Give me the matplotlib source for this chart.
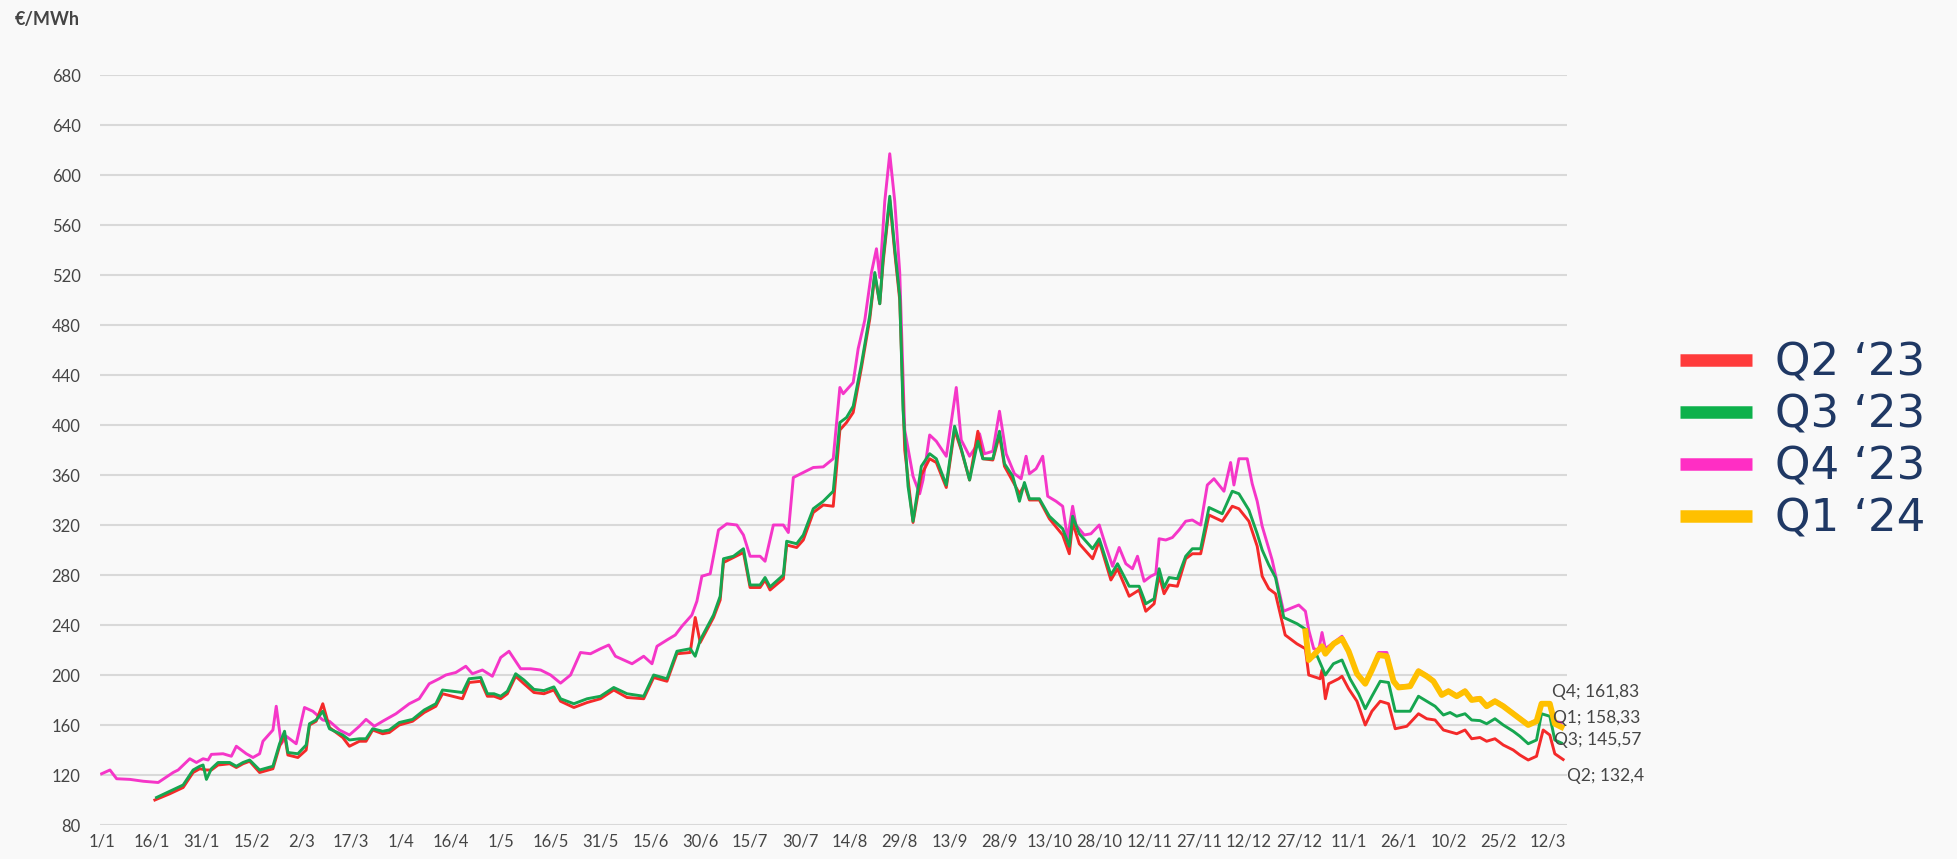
import numpy as np
import matplotlib
matplotlib.use("Agg")
import matplotlib.pyplot as plt
from matplotlib.lines import Line2D

#
#  Data (day offsets from 1/1/2022, price in EUR/MWh)
#
start = np.datetime64("2022-01-01")

q2_day = [16, 20.5, 24.5, 27.5, 29.5, 31.5, 33, 35, 38.5, 40.5, 42.5, 44.5, 47.5, 51.5,
          53.5, 55, 56, 59, 61.5, 62.5, 64.5, 66.5, 68.5, 72.5, 74.5, 77.5, 79.5, 81.5,
          84.5, 86.5, 89.5, 93.5, 97, 100.5, 102.5, 105.5, 108.5, 110.5, 114, 116, 118,
          120, 122, 124.5, 127, 130, 133, 136, 138, 142, 146, 150, 154, 158, 163, 166,
          170, 173, 177, 178.5, 180, 184, 186, 187, 190, 193, 195, 198, 199.5, 201, 205,
          206, 209, 211, 214, 217, 220, 222, 224, 226, 228.5, 231, 232.5, 234, 235, 237,
          238.5, 240, 241.5, 244, 246.5, 249, 251, 254, 256.5, 258.5, 261, 263.5, 265,
          268, 270, 271.5, 274, 276, 277.5, 279, 282, 285, 289, 291, 292, 294, 298, 300,
          303.5, 305.5, 309, 312, 314, 316.5, 318, 319.5, 321, 323.5, 326, 328, 330.5,
          333, 337, 340, 342, 345, 347.5, 349, 351, 353, 355.9, 359.4, 362, 363, 366.4,
          367, 368, 369, 372, 373, 375, 377.5, 380, 382, 384.5, 387, 389, 392.5, 396,
          398.5, 401, 403.5, 407.5, 410, 412, 414.5, 416.5, 419, 421.5, 424.5, 426.5,
          429, 431.5, 433.5, 435.5, 437, 439.5]
q2_val = [100, 105, 110, 122, 125, 124, 124, 128, 129, 126, 129, 131, 122, 125,
          143, 152, 136, 134, 140, 160, 163, 177, 158, 150, 143, 147, 147, 156,
          153, 154, 160, 163, 170, 175, 185, 183, 181, 194, 195, 183, 183,
          181, 185, 199, 193, 186, 185, 188, 179, 174, 178, 181, 188, 182, 181, 198,
          195, 217, 218, 246, 226, 246, 260, 290, 294, 298, 270, 270, 276, 268, 277,
          304, 302, 308, 330, 336, 335, 396, 402, 410, 446, 485, 520, 497, 530, 580,
          538, 500, 380, 322, 360, 373, 370, 350, 396, 380, 356, 395, 373,
          372, 392, 367, 355, 345, 352, 340, 340, 325, 312, 297, 322, 305, 293, 307,
          276, 285, 263, 268, 251, 257, 280, 265, 272, 271, 293, 297, 297,
          328, 323, 335, 333, 323, 303, 279, 269, 265, 232, 225, 221, 200, 197,
          204, 181, 193, 197, 199, 189, 179, 160, 171, 179, 177, 157, 159, 169,
          165, 164, 156, 153, 156, 149, 150, 147, 149, 144, 140, 136,
          132, 135, 156, 152, 137, 132.4]

q3_day = [16.5, 20.5, 24.5, 27.5, 29.5, 30.5, 31.5, 33, 35, 38.5, 40.5, 42.5, 44.5, 47.5,
          51.5, 53.5, 55, 56, 59, 61.5, 62.5, 64.5, 66.5, 68.5, 72.5, 74.5, 77.5, 79.5,
          81.5, 84.5, 86.5, 89.5, 93.5, 97, 100.5, 102.5, 105.5, 108.5, 110.5, 114, 116,
          118, 120, 122, 124.5, 127, 130, 133, 136, 138, 142, 146, 150, 154, 158, 163,
          166, 170, 173, 177, 178.5, 180, 184, 186, 187, 190, 193, 195, 198, 199.5, 201,
          205, 206, 209, 211, 214, 217, 220, 222, 224, 226, 228.5, 231, 232.5, 234, 235,
          237, 238.5, 240, 241, 242.5, 244, 246.5, 249, 251, 254, 256.5, 258.5, 261,
          263.5, 265, 268, 270, 271.5, 274, 276, 277.5, 279, 282, 285, 289, 291, 292,
          294, 298, 300, 303.5, 305.5, 309, 312, 314, 316.5, 318, 319.5, 321, 323.5, 326,
          328, 330.5, 333, 337, 340, 342, 345, 347.5, 349, 351, 353, 355.5, 359.5, 362.4,
          363, 365.4, 368, 370.4, 373, 375.4, 378, 380, 382, 384.5, 387, 389, 393.5, 396,
          398.5, 401, 403.5, 405.5, 407.5, 410, 412, 414.5, 416.5, 419, 421.5, 424.5,
          426.5, 429, 431.5, 433, 435.5, 437, 439]
q3_val = [102, 107, 112, 124, 127, 128, 116.5, 125, 130, 130, 127, 130, 132, 124,
          127, 145, 155, 138, 137, 144, 161, 164, 171, 157, 152, 148, 149, 149,
          157, 155, 156, 162, 164.5, 172, 177, 188, 187, 186, 197, 198, 185,
          185, 183, 187, 201, 196, 188.5, 187.5, 190.5, 181, 177, 181, 183, 190, 185, 183,
          200, 197, 219, 221, 215, 228, 248, 263, 293, 295, 301, 272, 272, 278, 270.5,
          280, 307, 305, 312, 333, 339, 347, 402, 406, 415, 449, 488, 522, 497, 533,
          583, 541, 503, 412, 351, 323, 367, 377, 373, 352, 399, 381, 356,
          387, 373, 373, 395, 369, 359, 339, 354, 341, 341, 327, 317, 303, 327,
          313, 301, 309, 280, 289, 271, 271, 257, 261, 285, 270, 278, 277, 295,
          301, 301, 334, 329, 347, 345, 332, 313, 300, 288, 278, 246, 241, 236,
          212, 216, 200, 209, 212, 197, 185, 173, 183, 195, 194, 171, 171, 183,
          179, 175, 168, 170, 167, 169, 164, 163.5, 161, 165, 160, 155,
          151, 145, 148, 169, 167, 148, 145.57]

q4_day = [0, 2.5, 4.5, 8.5, 12.5, 17, 21.5, 23, 26.5, 28.5, 30.5, 32, 33, 36.5, 39, 40.5,
          43.5, 45.5, 47.5, 48.5, 51.5, 52.5, 54, 55.5, 58.5, 61, 63.5, 66.5, 68.5, 71.5,
          74.5, 77.5, 79.5, 82, 84.5, 88.5, 92.5, 95.5, 98.5, 101.5, 103.5, 106.5, 109.5,
          111.5, 114.5, 117.5, 120, 122.5, 126, 129, 132, 135, 138, 141, 144, 147, 150,
          152.5, 154.5, 157, 159.5, 163, 165.5, 167, 170, 172.5, 174.5, 177.5, 179, 180.5,
          183, 185.5, 188, 191, 193, 195, 198, 199.5, 202, 205, 206.5, 208, 211, 214, 217,
          220, 222, 223, 226, 227.5, 229.5, 231.5, 233, 234, 235.5, 237, 238.5, 240,
          241.5, 244, 246, 247, 249, 251, 254, 257, 258.5, 261, 263, 264, 265.5, 268,
          270, 272, 274.5, 276.5, 278, 279, 281, 283, 284.5, 287, 289, 290.5, 292, 293,
          295.5, 297.5, 300, 302, 304, 306, 308, 310, 311.5, 313.5, 315.5, 317, 318, 320,
          322, 324, 326, 328, 330.5, 332.5, 334.5, 337.5, 339.5, 340.5, 342, 344.5, 346,
          347.5, 349, 352, 354, 355.4, 360, 362, 363, 364.5, 366, 367, 368, 370.5, 373,
          375, 377.5, 380, 382, 384, 386.5, 388.5, 390, 393.5, 396, 398.5, 400.5, 403,
          405, 407.5, 410, 412, 414.5, 416.5, 419, 421.5, 424.5, 426.5, 429, 431.5, 433,
          435.5, 437, 439]
q4_val = [121, 124, 117, 116.5, 115, 114, 122, 124, 133, 130, 133, 132, 136.5, 137, 135, 143,
          137, 134, 137, 147, 156, 175, 145, 151, 145, 174, 171, 164, 163, 156,
          152, 159, 164.5, 159, 163, 169, 177, 181, 193, 197, 200, 202, 207,
          201, 204, 199, 214, 219, 205, 205, 204, 200, 193.5, 200, 218, 217, 221,
          224, 215, 212, 209, 215, 209, 223, 228, 232, 239, 248, 259, 279,
          281, 316, 321, 320, 312, 295, 295, 291, 320, 320, 314, 358, 362, 366, 366.5,
          373, 430, 425, 434, 461, 484, 522, 541, 518, 579, 617, 579, 522,
          396, 359, 345, 356, 392, 387, 375, 430, 388, 375, 383, 393, 377, 379,
          411, 377, 361, 357, 375, 361, 365, 375, 343, 339, 335, 309, 335, 320,
          312, 313, 320, 303, 287, 302, 289, 285, 295, 275, 279, 281, 309, 308,
          310, 316, 323, 324, 320, 352, 357, 347, 370, 352, 373, 373, 353,
          339, 319, 292, 268, 251, 256, 251, 236, 221, 220, 234, 221, 226, 231,
          220, 202, 194, 205, 218, 218, 196, 191, 192, 204, 200, 196, 185,
          188, 184, 188, 181, 182, 176, 180, 176, 170, 166, 161, 164, 178,
          178, 163, 161.83]

q1_day = [362, 363, 364.5, 367, 368, 370.5, 373, 375, 377.5, 380, 382, 384, 386.5, 388.5,
          390, 393.5, 396, 398.5, 400.5, 403, 405, 407.5, 410, 412, 414.5, 416.5, 419,
          421.5, 424.5, 426.5, 429, 431.5, 433, 435.5, 437, 439]
q1_val = [235, 212, 216, 223, 217, 225, 229, 219, 201, 193, 204, 216, 215, 195,
          190, 191, 203, 199, 195, 184, 187, 183, 187, 180, 181, 175, 179,
          175, 169, 165, 160, 163, 177, 177, 161, 158.33]

labels = ["Q2 \u201823", "Q3 \u201823", "Q4 \u201823", "Q1 \u201824"]
end_labels = ["Q2; 132,4", "Q3; 145,57", "Q4; 161,83", "Q1; 158,33"]
colors = ["#f42a2a", "#16a650", "#f536c8", "#ffc000"]
legend_colors = ["#ff3b3b", "#0db14b", "#ff2ec4", "#ffc000"]

yticks = list(range(80, 681, 40))
tick_step = 15


def to_dates(days):
    return start + np.round(np.array(days) * 24).astype("timedelta64[h]")


#
#  Figure
#
W, H, DPI = 1957, 859, 100
bg = "#f9f9f9"
fig = plt.figure(figsize=(W / DPI, H / DPI), dpi=DPI, facecolor=bg)
ax = fig.add_axes([100 / W, 1 - 825 / H, 1467 / W, 750 / H], facecolor=bg)

series = [(q2_day, q2_val), (q3_day, q3_val), (q4_day, q4_val), (q1_day, q1_val)]
widths = [2.1, 2.1, 2.1, 4.2]
order = [2, 0, 1, 3]   # pink drawn first, yellow on top
for i in order:
    d, v = series[i]
    ax.plot(to_dates(d), v, color=colors[i], lw=widths[i], zorder=3 + order.index(i),
            solid_joinstyle="round")

# end-of-line labels
offsets = [(4, -16), (-7, 3), (-9, 31), (-8, 9)]
for i, (d, v) in enumerate(series):
    ax.annotate(end_labels[i], xy=(to_dates(d)[-1], v[-1]),
                xytext=offsets[i], textcoords="offset pixels",
                ha="left", va="center", fontsize=12.5, family="Lato",
                color="#454545", zorder=10)

# axes
ax.set_ylim(80, 680)
ax.set_xlim(start - np.timedelta64(12, "h"), start + np.timedelta64(int(440.7 * 24), "h"))
ax.set_yticks(yticks)
ax.grid(axis="y", color="#d9d9d9", lw=1.5)
ax.set_axisbelow(True)
for s in ax.spines.values():
    s.set_visible(False)

xt = start + np.arange(0, 436, tick_step).astype("timedelta64[D]")
ax.set_xticks(xt)
ax.set_xticklabels([f"{d.day}/{d.month}" for d in xt.astype(object)])
ax.tick_params(axis="both", length=0, labelsize=12, labelcolor="#454545")
ax.tick_params(axis="y", pad=14)
ax.tick_params(axis="x", pad=6)
for t in ax.get_xticklabels() + ax.get_yticklabels():
    t.set_family("Lato")

fig.text(15 / W, 1 - 19 / H, "\u20ac/MWh", fontsize=13, family="Lato",
         fontweight="bold", color="#454545", ha="left", va="center")

# legend
handles = [Line2D([], [], color=c, lw=9, solid_capstyle="butt") for c in legend_colors]
fig.legend(handles, labels, loc="center left", bbox_to_anchor=(1680 / W, 1 - 441 / H),
           frameon=False, fontsize=32.5, handlelength=1.6, handletextpad=0.5,
           labelspacing=0.2, labelcolor="#1f3864", borderpad=0, borderaxespad=0)

fig.savefig("out.png", dpi=DPI, facecolor=bg)
